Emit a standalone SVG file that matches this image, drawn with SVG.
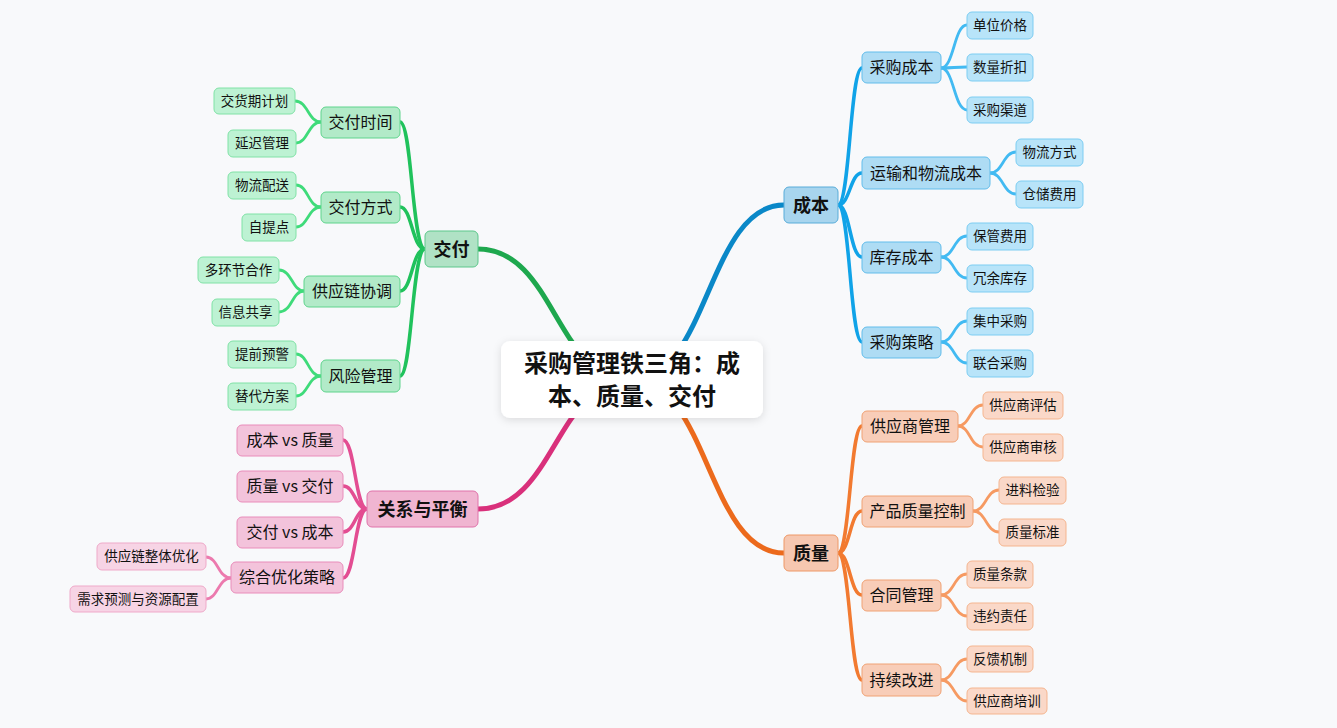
<svg xmlns="http://www.w3.org/2000/svg" width="1337" height="728" viewBox="0 0 1337 728">
<defs>
<filter id="sh" x="-20%" y="-30%" width="140%" height="160%"><feDropShadow dx="0" dy="2" stdDeviation="4" flood-color="#000" flood-opacity="0.12"/></filter>
<style>
text{font-family:"Noto Sans CJK SC","Microsoft YaHei",sans-serif;fill:#111;text-anchor:middle;dominant-baseline:central;transform:translateY(-1.5px)}
.t0{font-size:24px;font-weight:bold}
.t1{font-size:18px;font-weight:bold}
.t2{font-size:16px}
.t3{font-size:13.5px}
path{fill:none;stroke-linecap:round}
.cm{stroke-width:5}
.cs{stroke-width:3.5}
.cl{stroke-width:2.8}
.b1{fill:#a8d5ee;stroke:#58acd9}.b2{fill:#aedcf4;stroke:#62bdeb}.b3{fill:#b8e4f9;stroke:#7ccdf2}
.o1{fill:#f6c7b0;stroke:#ee9866}.o2{fill:#f8cdb8;stroke:#f0a274}.o3{fill:#fad8c8;stroke:#f5b58f}
.g1{fill:#b0e2c5;stroke:#5cc78b}.g2{fill:#b2eac8;stroke:#5ed48c}.g3{fill:#bdf2d3;stroke:#80e2a6}
.p1{fill:#f0b5d1;stroke:#e072aa}.p2{fill:#f3c3db;stroke:#e98cba}.p3{fill:#f7d4e5;stroke:#efa9c9}
rect{stroke-width:1}
</style>
</defs>
<rect width="1337" height="728" fill="#f8f9fb"/>
<g id="connectors">
<path class="cm" stroke="#0a88c8" d="M632 380 C708 380 708 205 784 205"/>
<path class="cm" stroke="#ec6a1c" d="M632 380 C708 380 708 553 784 553"/>
<path class="cm" stroke="#1ea84e" d="M632 380 C555 380 555 249 478 249"/>
<path class="cm" stroke="#d9307b" d="M632 380 C555 380 555 509 478 509"/>
<g stroke="#10a3e8">
<path class="cs" d="M838 205 C850 205 850 68 862 68"/>
<path class="cs" d="M838 205 C850 205 850 173 862 173"/>
<path class="cs" d="M838 205 C850 205 850 257 862 257"/>
<path class="cs" d="M838 205 C850 205 850 342 862 342"/>
</g>
<g stroke="#42baf2">
<path class="cl" d="M941 68 C954 68 954 25 967 25"/>
<path class="cl" d="M941 68 C954 68 954 67 967 67"/>
<path class="cl" d="M941 68 C954 68 954 110 967 110"/>
<path class="cl" d="M990 173 C1003 173 1003 152 1016 152"/>
<path class="cl" d="M990 173 C1003 173 1003 194 1016 194"/>
<path class="cl" d="M941 257 C954 257 954 236 967 236"/>
<path class="cl" d="M941 257 C954 257 954 278 967 278"/>
<path class="cl" d="M941 342 C954 342 954 321 967 321"/>
<path class="cl" d="M941 342 C954 342 954 363 967 363"/>
</g>
<g stroke="#f27a30">
<path class="cs" d="M838 553 C850 553 850 426 862 426"/>
<path class="cs" d="M838 553 C850 553 850 511 862 511"/>
<path class="cs" d="M838 553 C850 553 850 595 862 595"/>
<path class="cs" d="M838 553 C850 553 850 680 862 680"/>
</g>
<g stroke="#f69a62">
<path class="cl" d="M958 426 C970 426 970 405 983 405"/>
<path class="cl" d="M958 426 C970 426 970 447 983 447"/>
<path class="cl" d="M973 511 C986 511 986 490 999 490"/>
<path class="cl" d="M973 511 C986 511 986 532 999 532"/>
<path class="cl" d="M941 595 C954 595 954 574 967 574"/>
<path class="cl" d="M941 595 C954 595 954 616 967 616"/>
<path class="cl" d="M941 680 C954 680 954 659 967 659"/>
<path class="cl" d="M941 680 C954 680 954 701 967 701"/>
</g>
<g stroke="#20c25c">
<path class="cs" d="M425 249 C412 249 412 122 400 122"/>
<path class="cs" d="M425 249 C412 249 412 207 400 207"/>
<path class="cs" d="M425 249 C412 249 412 291 400 291"/>
<path class="cs" d="M425 249 C412 249 412 376 400 376"/>
</g>
<g stroke="#3fdb7a">
<path class="cl" d="M321 122 C308 122 308 101 295 101"/>
<path class="cl" d="M321 122 C308 122 308 143 296 143"/>
<path class="cl" d="M321 207 C308 207 308 185 296 185"/>
<path class="cl" d="M321 207 C308 207 308 227 296 227"/>
<path class="cl" d="M304 291 C292 291 292 270 279 270"/>
<path class="cl" d="M304 291 C292 291 292 312 279 312"/>
<path class="cl" d="M321 376 C308 376 308 354 296 354"/>
<path class="cl" d="M321 376 C308 376 308 396 296 396"/>
</g>
<g stroke="#e34d92">
<path class="cs" d="M367 509 C355 509 355 440 343 440"/>
<path class="cs" d="M367 509 C355 509 355 486 343 486"/>
<path class="cs" d="M367 509 C355 509 355 532 343 532"/>
<path class="cs" d="M367 509 C355 509 355 578 343 578"/>
</g>
<g stroke="#ec7aae">
<path class="cl" d="M231 578 C218 578 218 557 206 557"/>
<path class="cl" d="M231 578 C218 578 218 599 206 599"/>
</g>
</g>
<g id="center"><rect x="501" y="341" width="262" height="77" rx="9" fill="#fff" filter="url(#sh)"/><text class="t0" x="632" y="363">采购管理铁三角：成</text><text class="t0" x="632" y="396">本、质量、交付</text></g>
<g id="n-cost"><rect class="b1" x="784" y="187" width="54" height="36" rx="5"/><text class="t1" x="811" y="205">成本</text></g>
<g id="n-cost1"><rect class="b2" x="862" y="52" width="79" height="31" rx="5"/><text class="t2" x="901.5" y="67.5">采购成本</text></g>
<g id="n-cost2"><rect class="b2" x="862" y="157" width="128" height="32" rx="5"/><text class="t2" x="926" y="173">运输和物流成本</text></g>
<g id="n-cost3"><rect class="b2" x="862" y="242" width="79" height="31" rx="5"/><text class="t2" x="901.5" y="257.5">库存成本</text></g>
<g id="n-cost4"><rect class="b2" x="862" y="327" width="79" height="31" rx="5"/><text class="t2" x="901.5" y="342.5">采购策略</text></g>
<g id="l-c1"><rect class="b3" x="967" y="12" width="66" height="27" rx="5"/><text class="t3" x="1000" y="25.5">单位价格</text></g>
<g id="l-c2"><rect class="b3" x="967" y="54" width="66" height="27" rx="5"/><text class="t3" x="1000" y="67.5">数量折扣</text></g>
<g id="l-c3"><rect class="b3" x="967" y="97" width="66" height="26" rx="5"/><text class="t3" x="1000" y="110">采购渠道</text></g>
<g id="l-c4"><rect class="b3" x="1016" y="139" width="67" height="27" rx="5"/><text class="t3" x="1049.5" y="152.5">物流方式</text></g>
<g id="l-c5"><rect class="b3" x="1016" y="181" width="67" height="27" rx="5"/><text class="t3" x="1049.5" y="194.5">仓储费用</text></g>
<g id="l-c6"><rect class="b3" x="967" y="223" width="66" height="27" rx="5"/><text class="t3" x="1000" y="236.5">保管费用</text></g>
<g id="l-c7"><rect class="b3" x="967" y="265" width="66" height="27" rx="5"/><text class="t3" x="1000" y="278.5">冗余库存</text></g>
<g id="l-c8"><rect class="b3" x="967" y="308" width="66" height="27" rx="5"/><text class="t3" x="1000" y="321.5">集中采购</text></g>
<g id="l-c9"><rect class="b3" x="967" y="350" width="66" height="27" rx="5"/><text class="t3" x="1000" y="363.5">联合采购</text></g>
<g id="n-qual"><rect class="o1" x="784" y="535" width="54" height="36" rx="5"/><text class="t1" x="811" y="553">质量</text></g>
<g id="n-q1"><rect class="o2" x="862" y="411" width="96" height="31" rx="5"/><text class="t2" x="910" y="426.5">供应商管理</text></g>
<g id="n-q2"><rect class="o2" x="862" y="496" width="111" height="31" rx="5"/><text class="t2" x="917.5" y="511.5">产品质量控制</text></g>
<g id="n-q3"><rect class="o2" x="862" y="580" width="79" height="31" rx="5"/><text class="t2" x="901.5" y="595.5">合同管理</text></g>
<g id="n-q4"><rect class="o2" x="862" y="664" width="79" height="32" rx="5"/><text class="t2" x="901.5" y="680">持续改进</text></g>
<g id="l-q1"><rect class="o3" x="983" y="392" width="80" height="27" rx="5"/><text class="t3" x="1023" y="405.5">供应商评估</text></g>
<g id="l-q2"><rect class="o3" x="983" y="434" width="80" height="27" rx="5"/><text class="t3" x="1023" y="447.5">供应商审核</text></g>
<g id="l-q3"><rect class="o3" x="999" y="477" width="67" height="27" rx="5"/><text class="t3" x="1032.5" y="490.5">进料检验</text></g>
<g id="l-q4"><rect class="o3" x="999" y="519" width="67" height="27" rx="5"/><text class="t3" x="1032.5" y="532.5">质量标准</text></g>
<g id="l-q5"><rect class="o3" x="967" y="561" width="66" height="27" rx="5"/><text class="t3" x="1000" y="574.5">质量条款</text></g>
<g id="l-q6"><rect class="o3" x="967" y="603" width="66" height="27" rx="5"/><text class="t3" x="1000" y="616.5">违约责任</text></g>
<g id="l-q7"><rect class="o3" x="967" y="646" width="66" height="26" rx="5"/><text class="t3" x="1000" y="659">反馈机制</text></g>
<g id="l-q8"><rect class="o3" x="967" y="688" width="80" height="26" rx="5"/><text class="t3" x="1007" y="701">供应商培训</text></g>
<g id="n-del"><rect class="g1" x="425" y="231" width="53" height="36" rx="5"/><text class="t1" x="451.5" y="249">交付</text></g>
<g id="n-d1"><rect class="g2" x="321" y="107" width="79" height="31" rx="5"/><text class="t2" x="360.5" y="122.5">交付时间</text></g>
<g id="n-d2"><rect class="g2" x="321" y="192" width="79" height="31" rx="5"/><text class="t2" x="360.5" y="207.5">交付方式</text></g>
<g id="n-d3"><rect class="g2" x="304" y="276" width="96" height="31" rx="5"/><text class="t2" x="352" y="291.5">供应链协调</text></g>
<g id="n-d4"><rect class="g2" x="321" y="360" width="79" height="32" rx="5"/><text class="t2" x="360.5" y="376">风险管理</text></g>
<g id="l-d1"><rect class="g3" x="214" y="88" width="81" height="26" rx="5"/><text class="t3" x="254.5" y="101">交货期计划</text></g>
<g id="l-d2"><rect class="g3" x="228" y="130" width="68" height="27" rx="5"/><text class="t3" x="262" y="143.5">延迟管理</text></g>
<g id="l-d3"><rect class="g3" x="228" y="172" width="68" height="27" rx="5"/><text class="t3" x="262" y="185.5">物流配送</text></g>
<g id="l-d4"><rect class="g3" x="242" y="214" width="54" height="27" rx="5"/><text class="t3" x="269" y="227.5">自提点</text></g>
<g id="l-d5"><rect class="g3" x="198" y="257" width="81" height="26" rx="5"/><text class="t3" x="238.5" y="270">多环节合作</text></g>
<g id="l-d6"><rect class="g3" x="212" y="299" width="67" height="27" rx="5"/><text class="t3" x="245.5" y="312.5">信息共享</text></g>
<g id="l-d7"><rect class="g3" x="228" y="341" width="68" height="27" rx="5"/><text class="t3" x="262" y="354.5">提前预警</text></g>
<g id="l-d8"><rect class="g3" x="228" y="383" width="68" height="27" rx="5"/><text class="t3" x="262" y="396.5">替代方案</text></g>
<g id="n-rel"><rect class="p1" x="367" y="491" width="111" height="36" rx="5"/><text class="t1" x="422.5" y="509">关系与平衡</text></g>
<g id="n-r1"><rect class="p2" x="237" y="425" width="106" height="31" rx="5"/><text class="t2" x="290" y="440.5">成本 vs 质量</text></g>
<g id="n-r2"><rect class="p2" x="237" y="471" width="106" height="31" rx="5"/><text class="t2" x="290" y="486.5">质量 vs 交付</text></g>
<g id="n-r3"><rect class="p2" x="237" y="517" width="106" height="31" rx="5"/><text class="t2" x="290" y="532.5">交付 vs 成本</text></g>
<g id="n-r4"><rect class="p2" x="231" y="562" width="112" height="31" rx="5"/><text class="t2" x="287" y="577.5">综合优化策略</text></g>
<g id="l-r1"><rect class="p3" x="97" y="543" width="109" height="27" rx="5"/><text class="t3" x="151.5" y="556.5">供应链整体优化</text></g>
<g id="l-r2"><rect class="p3" x="70" y="586" width="136" height="26" rx="5"/><text class="t3" x="138" y="599">需求预测与资源配置</text></g>
</svg>
